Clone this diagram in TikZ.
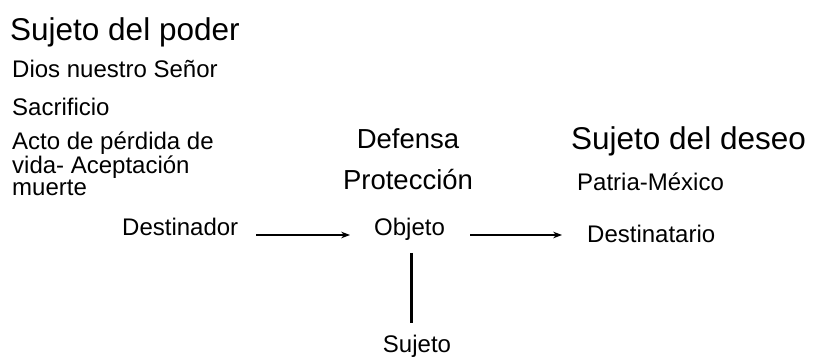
\documentclass[tikz,border=0pt]{standalone}
\usepackage{fontspec}
\setmainfont{Liberation Sans}
\usepackage{tikz}
\usetikzlibrary{arrows.meta}

\begin{document}
\begin{tikzpicture}[x=1pt, y=-1pt, >=Stealth,
    big/.style={anchor=base west, inner sep=0pt, font=\fontsize{31.5}{34}\selectfont},
    mid/.style={anchor=base, inner sep=0pt, font=\fontsize{27.5}{42}\selectfont},
    small/.style={anchor=base west, inner sep=0pt, font=\fontsize{24}{17.5}\selectfont},
    flecha/.style={->, line width=1.3pt}]
    % marco
    \useasboundingbox (0, 0) rectangle (815, 358);

    % columna izquierda
    \node[big] (poder) at (10, 41) {Sujeto del poder};
    \node[small] (dios) at (12, 78) {Dios nuestro Señor};
    \node[small] (sacrificio) at (12, 116) {Sacrificio};
    \node[small, align=left, anchor=north west] (acto) at (12, 132)
        {Acto de pérdida de\\vida- Aceptación\\muerte};

    % centro
    \node[mid] (defensa) at (408, 149) {Defensa};
    \node[mid] (proteccion) at (408, 190) {Protección};

    % derecha
    \node[big] (deseo) at (571, 150) {Sujeto del deseo};
    \node[small] (patria) at (577, 191) {Patria-México};

    % fila de actantes
    \node[small] (destinador) at (122, 236) {Destinador};
    \node[small] (objeto) at (374, 236) {Objeto};
    \node[small] (destinatario) at (587, 243) {Destinatario};
    \node[small, anchor=base] (sujeto) at (417, 353) {Sujeto};

    % flechas
    \draw[flecha, shorten <=18pt, shorten >=24pt]
        (destinador.east |- 0, 235) -- (objeto.west |- 0, 235);
    \draw[flecha, shorten <=25pt, shorten >=25pt]
        (objeto.east |- 0, 235) -- (destinatario.west |- 0, 235);

    % barra vertical
    \coordinate (barra) at (411, 253);
    \coordinate (barrafin) at (411, 323);
    \draw[line width=3pt] (barra) -- (barrafin);
\end{tikzpicture}
\end{document}
